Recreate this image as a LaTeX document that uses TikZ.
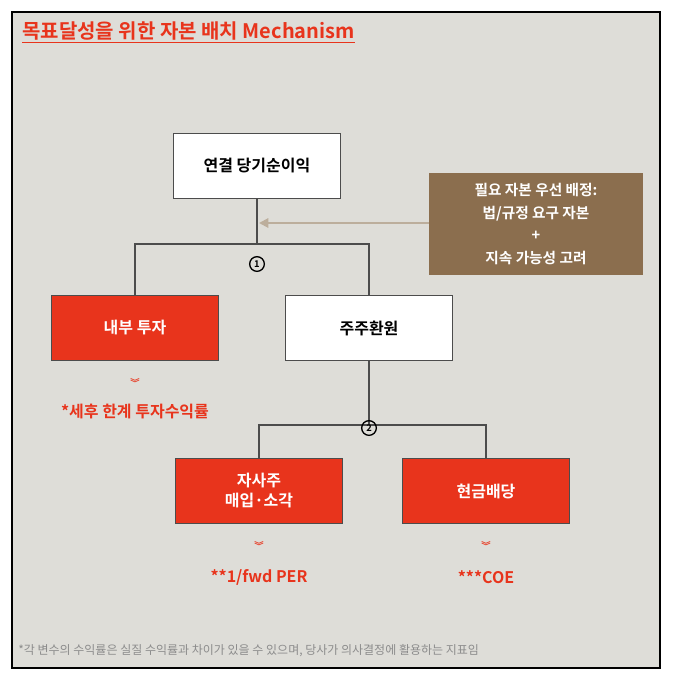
\documentclass[tikz,border=0pt]{standalone}
\usepackage{fontspec}
\setmainfont{Noto Sans CJK KR}
\newfontfamily\kb{Noto Sans CJK KR Bold}
\usetikzlibrary{arrows.meta}
\definecolor{bg}{HTML}{DEDDD8}
\definecolor{rd}{HTML}{E8341C}
\definecolor{br}{HTML}{8B6E4E}
\definecolor{ar}{HTML}{BCAE9C}
\tikzset{
 box/.style={draw=black!70,line width=0.8pt,minimum width=125pt,minimum height=49pt,inner sep=0pt,align=center,font=\kb\fontsize{12}{15}\selectfont},
 wbox/.style={box,fill=white,text=black},
 rbox/.style={box,fill=rd,text=white},
 ln/.style={draw=black!70,line width=0.8pt},
 num/.style={circle,draw=black,line width=1pt,inner sep=0pt,minimum size=11pt,font=\kb\fontsize{7}{7}\selectfont},
 lbl/.style={text=rd,font=\kb\fontsize{12}{14}\selectfont},
 chev/.style={text=rd,font=\kb\fontsize{7}{7}\selectfont}
}
\begin{document}
\begin{tikzpicture}[x=0.75pt,y=-0.75pt]
\useasboundingbox (0,0) rectangle (676,678);
\fill[white] (0,0) rectangle (676,678);
\draw[fill=bg,line width=1.5pt] (12,12) rectangle (660,668);
\node[anchor=west,text=rd,font=\kb\fontsize{15}{18}\selectfont,inner sep=0pt] (title) at (22,32) {\underline{목표달성을 위한 자본 배치 Mechanism}};
\node[wbox] (a) at (257,166) {연결 당기순이익};
\node[rbox] (b) at (135,328) {내부 투자};
\node[wbox] (c) at (369,328) {주주환원};
\node[rbox] (d) at (259,491) {자사주\\매입·소각};
\node[rbox] (e) at (486,491) {현금배당};
\node[fill=br,text=white,minimum width=160pt,minimum height=77pt,align=center,font=\kb\fontsize{11}{17}\selectfont] (f) at (536,224) {필요 자본 우선 배정:\\법/규정 요구 자본\\+\\지속 가능성 고려};
\coordinate (j1) at (257,244);
\coordinate (j2) at (369,425);
\draw[ln] (a) -- (j1);
\draw[ln] (b.north) |- (j1) -| (c.north);
\draw[ln] (c) -- (j2);
\draw[ln] (d.north) |- (j2) -| (e.north);
\coordinate (t) at (259,223);
\draw[ar,line width=1.5pt,-{Triangle[length=7pt,width=7pt]}] (f.west |- t) -- (t);
\node[num] (n1) at (257,264) {1};
\node[num] (n2) at (369,428) {2};
\node[chev] (c1) at (135,383) {︾};
\node[lbl] (l1) at (135,412) {*세후 한계 투자수익률};
\node[chev] (c2) at (259,546) {︾};
\node[lbl] (l2) at (259,577) {**1/fwd PER};
\node[chev] (c3) at (486,546) {︾};
\node[lbl] (l3) at (486,577) {***COE};
\node[anchor=west,text=black!45,font=\fontsize{9}{10}\selectfont,inner sep=0pt] (fn) at (18,651) {*각 변수의 수익률은 실질 수익률과 차이가 있을 수 있으며, 당사가 의사결정에 활용하는 지표임};
\end{tikzpicture}
\end{document}
